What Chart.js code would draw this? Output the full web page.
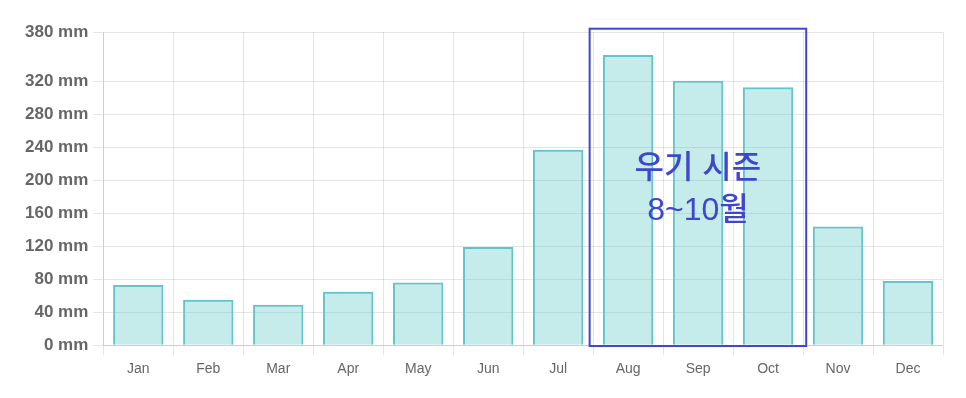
<!DOCTYPE html>
<html>
<head>
<meta charset="utf-8">
<script src="https://cdn.jsdelivr.net/npm/chart.js@4"></script>
<style>
	html, body { margin: 0; padding: 0; background: #fff; }
	#wrap { width: 966px; height: 398px; }
</style>
</head>
<body>
<div id="wrap"><canvas id="chart"></canvas></div>
<script>
const months = ['Jan', 'Feb', 'Mar', 'Apr', 'May', 'Jun', 'Jul', 'Aug', 'Sep', 'Oct', 'Nov', 'Dec'];
const rainfall = [73, 55, 49, 65, 76, 119, 237, 352, 321, 313, 144, 78];
const seasonLabel = ['우기 시즌', '8~10월'];
const seasonStart = 'Aug';
const seasonEnd = 'Oct';

// draws the rainy season box + label on top of the bars
const seasonBox = {
	id: 'seasonBox',
	afterDatasetsDraw(chart) {
		const { ctx, scales: { x, y } } = chart;
		const i0 = months.indexOf(seasonStart);
		const i1 = months.indexOf(seasonEnd);
		const left = x.getPixelForValue(i0 - 0.55);
		const right = x.getPixelForValue(i1 + 0.545);
		const top = y.getPixelForValue(384);
		const bottom = y.getPixelForValue(-1);

		ctx.save();
		ctx.strokeStyle = 'rgb(63, 72, 204)';
		ctx.lineWidth = 2;
		ctx.strokeRect(left, top, right - left, bottom - top);

		ctx.fillStyle = 'rgb(63, 72, 204)';
		ctx.font = '500 32px "Liberation Sans", "Noto Sans CJK KR", sans-serif';
		ctx.textAlign = 'center';
		ctx.textBaseline = 'middle';
		const cx = (left + right) / 2;
		const cy = (top + bottom) / 2;
		ctx.fillText(seasonLabel[0], cx, cy - 18);
		ctx.fillText(seasonLabel[1], cx, cy + 24);
		ctx.restore();
	}
};

new Chart(document.getElementById('chart'), {
	type: 'bar',
	data: {
		labels: months,
		datasets: [{
			label: 'Rainfall',
			data: rainfall,
			backgroundColor: 'rgba(75, 192, 192, 0.32)',
			borderColor: 'rgb(100, 196, 204)',
			borderWidth: 2,
		}],
	},
	options: {
		responsive: true,
		maintainAspectRatio: false,
		animation: false,
		layout: {
			padding: { top: 32, right: 23, bottom: 14, left: 20 },
		},
		plugins: {
			legend: { display: false },
			tooltip: { enabled: false },
		},
		scales: {
			x: {
				grid: { color: 'rgba(0, 0, 0, 0.1)', tickLength: 10 },
				ticks: {
					color: '#666',
					font: { family: '"Liberation Sans", Arial, sans-serif', size: 14 },
					padding: 6,
				},
			},
			y: {
				min: 0,
				max: 380,
				grid: { color: 'rgba(0, 0, 0, 0.1)', tickLength: 10 },
				ticks: {
					stepSize: 40,
					color: '#666',
					padding: 5,
					font: { family: '"Liberation Sans", Arial, sans-serif', size: 17, weight: 'bold' },
					callback: (v) => v + ' mm',
				},
			},
		},
	},
	plugins: [seasonBox],
});
</script>
</body>
</html>
